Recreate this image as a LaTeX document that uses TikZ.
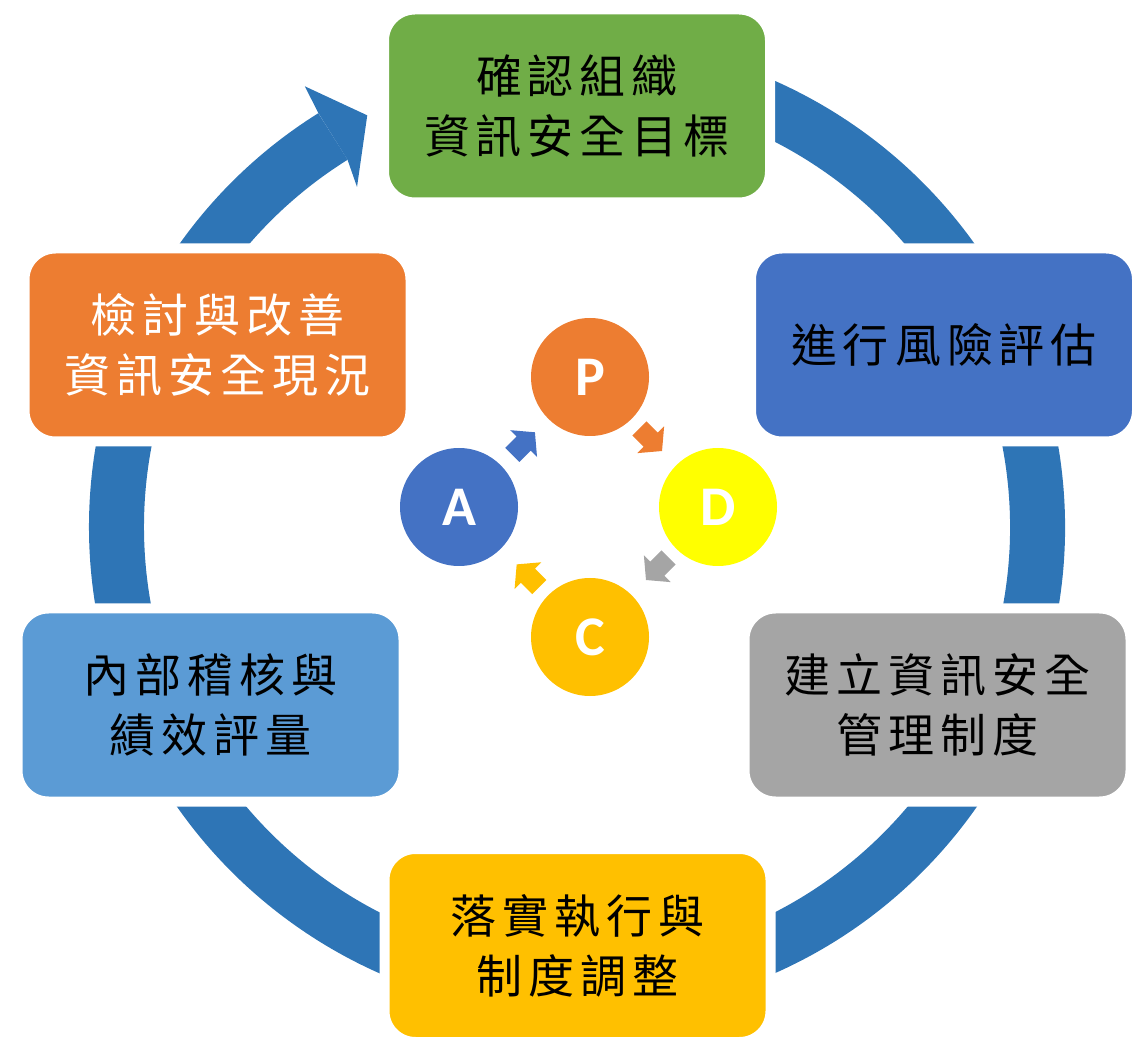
\documentclass[tikz,border=0pt]{standalone}
\usepackage{fontspec}
\newfontfamily\cjk[LetterSpace=13]{Noto Sans CJK TC}
\newfontfamily\latinb{Carlito}
\definecolor{ringblue}{HTML}{2E75B6}
\definecolor{cgreen}{HTML}{70AD47}
\definecolor{cblue}{HTML}{4472C4}
\definecolor{cgray}{HTML}{A5A5A5}
\definecolor{cgold}{HTML}{FFC000}
\definecolor{clblue}{HTML}{5B9BD5}
\definecolor{corange}{HTML}{ED7D31}
\definecolor{cyellow}{HTML}{FFFF00}
\begin{document}
\begin{tikzpicture}[x=1pt,y=1pt,
  box/.style={rounded corners=31pt, draw=white, line width=10pt,
    minimum width=386pt, minimum height=193pt, inner sep=0pt, align=center,
    font=\cjk\fontsize{46}{60}\selectfont, text=black},
  circ/.style={circle, minimum size=118pt, inner sep=0pt,
    font=\latinb\bfseries\fontsize{56}{60}\selectfont, text=white},
  blockarrow/.style={line width=0pt}
]
\useasboundingbox (0,0) rectangle (1140,1045);
\coordinate (ringc) at (577,518);
% ring
\draw[ringblue, line width=55pt] (ringc) ++(100:460.5) arc[start angle=100, end angle=-238, radius=460.5];
% arrow head
\fill[ringblue, shift={(ringc)}] (122:488) -- (121.7:518) -- (117:462) -- (122.9:405) -- (122:433) -- cycle;
% boxes
\node[box, fill=cgreen] (b1) at (577,939) {確認組織\\資訊安全目標};
\node[box, fill=cblue] (b2) at (944,700) {進行風險評估};
\node[box, fill=cgray] (b3) at (937.5,340) {建立資訊安全\\管理制度};
\node[box, fill=cgold] (b4) at (577.5,99.5) {落實執行與\\制度調整};
\node[box, fill=clblue] (b5) at (210.5,340) {內部稽核與\\績效評量};
\node[box, fill=corange, text=white] (b6) at (217.5,700) {檢討與改善\\資訊安全現況};
% PDCA circles
\node[circ, fill=corange] (P) at (590,668) {P};
\node[circ, fill=cyellow] (D) at (718,538) {D};
\node[circ, fill=cgold] (C) at (590,408) {C};
\node[circ, fill=cblue] (A) at (459,538) {A};
% small block arrows
\fill[cblue, shift={(523.6,601.4)}, rotate=45] (-16,-10) -- (0,-10) -- (0,-19) -- (16,0) -- (0,19) -- (0,10) -- (-16,10) -- cycle;
\fill[corange, shift={(650.7,605.3)}, rotate=-45] (-16,-10) -- (0,-10) -- (0,-19) -- (16,0) -- (0,19) -- (0,10) -- (-16,10) -- cycle;
\fill[cgray, shift={(657.3,476.3)}, rotate=-135] (-16,-10) -- (0,-10) -- (0,-19) -- (16,0) -- (0,19) -- (0,10) -- (-16,10) -- cycle;
\fill[cgold, shift={(528,469.3)}, rotate=135] (-16,-10) -- (0,-10) -- (0,-19) -- (16,0) -- (0,19) -- (0,10) -- (-16,10) -- cycle;
\end{tikzpicture}
\end{document}
